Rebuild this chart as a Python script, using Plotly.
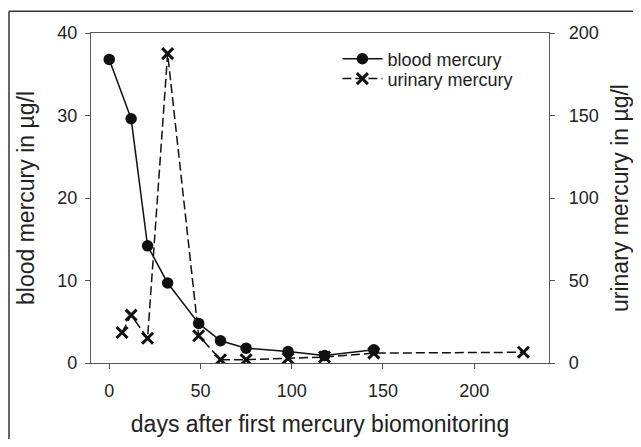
import plotly.graph_objects as go

# data
blood_days = [0, 12, 21, 32, 49, 61, 75, 98, 118, 145]
blood_hg = [36.8, 29.6, 14.2, 9.7, 4.8, 2.7, 1.8, 1.4, 0.9, 1.6]
urine_days = [7, 12, 21, 32, 49, 61, 75, 98, 118, 145, 227]
urine_hg = [18.5, 29, 15, 187.5, 16.5, 2.0, 2.0, 2.8, 3.6, 6.0, 6.5]
x_ticks = [0, 50, 100, 150, 200]
yl_ticks = [0, 10, 20, 30, 40]
yr_ticks = [0, 50, 100, 150, 200]

FONT = "Liberation Sans, Arial, sans-serif"
TXT = "#222222"
AX = "#555555"

fig = go.Figure()
fig.add_trace(go.Scatter(
    x=blood_days, y=blood_hg, name="blood mercury", mode="lines+markers",
    line=dict(color="#111111", width=1.5),
    marker=dict(symbol="circle", size=11.5, color="#111111"),
    yaxis="y", legend="legend"))
fig.add_trace(go.Scatter(
    x=urine_days, y=urine_hg, name="urinary mercury", mode="lines+markers",
    line=dict(color="#111111", width=1.5, dash="9px,4px"),
    marker=dict(symbol="x-thin", size=11, color="#111111",
                line=dict(color="#111111", width=3)),
    yaxis="y2", legend="legend2"))

axis_common = dict(showgrid=False, zeroline=False, showline=True, linecolor=AX,
                   linewidth=1.3, ticks="outside", ticklen=5, tickwidth=1.3,
                   tickcolor=AX, automargin=False,
                   tickfont=dict(family=FONT, size=18, color=TXT))

leg_common = dict(xanchor="left", yanchor="top", bgcolor="rgba(0,0,0,0)",
                  font=dict(family=FONT, size=18, color=TXT), itemwidth=40)

frame = dict(color="#333333", width=1.5)

fig.update_layout(
    width=625, height=431,
    margin=dict(l=83, r=84, t=25, b=76, autoexpand=False),
    paper_bgcolor="white", plot_bgcolor="white",
    showlegend=True,
    legend=dict(x=0.538, y=0.977, **leg_common),
    legend2=dict(x=0.538, y=0.917, **leg_common),
    xaxis=dict(range=[-10, 241], tickvals=x_ticks, mirror=True,
               title=dict(text="days after first mercury biomonitoring",
                          font=dict(family=FONT, size=23, color=TXT), standoff=16),
               ticklabelstandoff=6, **axis_common),
    yaxis=dict(range=[0, 40], tickvals=yl_ticks,
               title=dict(text="blood mercury in µg/l",
                          font=dict(family=FONT, size=23, color=TXT), standoff=16),
               ticklabelstandoff=4, **axis_common),
    yaxis2=dict(range=[0, 200], tickvals=yr_ticks, overlaying="y", side="right",
                title=dict(text="urinary mercury in µg/l",
                           font=dict(family=FONT, size=23, color=TXT), standoff=17),
                ticklabelstandoff=10, **axis_common),
    shapes=[
        dict(type="line", xref="paper", yref="paper",
             x0=-0.179, x1=1.3, y0=1.0656, y1=1.0656, line=frame, layer="above"),
        dict(type="line", xref="paper", yref="paper",
             x0=-0.179, x1=-0.179, y0=-0.4, y1=1.0656, line=frame, layer="above"),
    ],
)

fig.write_html("out.html")
